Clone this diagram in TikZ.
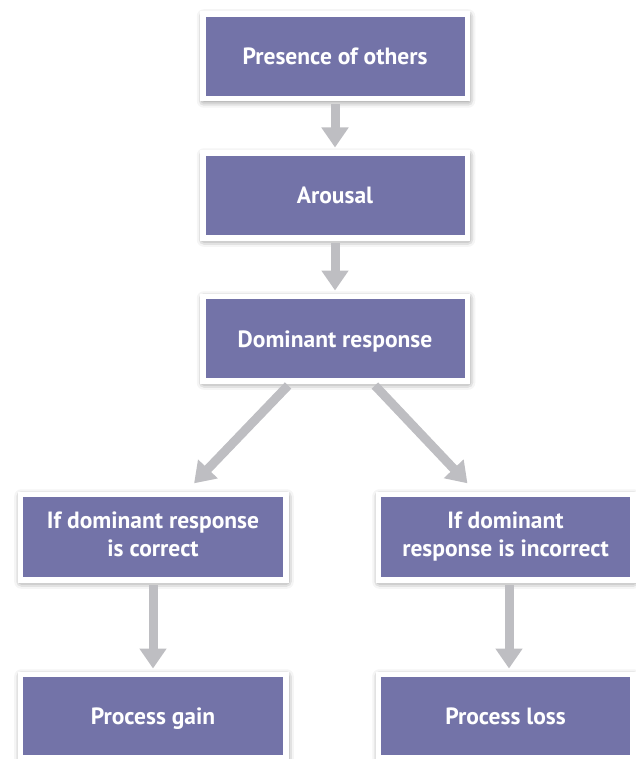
\documentclass[tikz,border=0pt]{standalone}
\usepackage{fontspec}
\setmainfont{PT Sans}
\usetikzlibrary{calc,arrows.meta,shadows.blur}

\definecolor{boxpurple}{RGB}{115,115,168}
\definecolor{arrowgray}{RGB}{190,190,194}

\tikzset{
	stagebox/.style={rectangle, fill=boxpurple, draw=white, line width=5.5pt,
		text=white, font=\fontsize{23.5}{28}\selectfont\bfseries, align=center, inner sep=0pt,
		execute at begin node={\rule[-6pt]{0pt}{29pt}},
		execute at end node={\rule[-6pt]{0pt}{0pt}},
		blur shadow={shadow xshift=1pt, shadow yshift=-2pt, shadow blur radius=7pt, shadow opacity=60}},
	flow/.style={draw=arrowgray, line width=9pt, -{Triangle[width=26pt,length=20pt]},
		shorten >=3pt, shorten <=2.75pt},
}

\begin{document}
\begin{tikzpicture}[x=1pt, y=-1pt]
			%%%%% START %%%%%
			\useasboundingbox (0, 0) rectangle (636, 759);
			
			% the chain in the middle
			\node[stagebox, minimum width=264.5pt, minimum height=84.5pt] (presence) at (335, 56.5) {Presence of others};
			\node[stagebox, minimum width=264.5pt, minimum height=84.5pt] (arousal) at (335, 195.5) {Arousal};
			\node[stagebox, minimum width=264.5pt, minimum height=84.5pt] (dominant) at (335, 338.5) {Dominant response};
			
			% the two cases
			\node[stagebox, minimum width=265.5pt, minimum height=85.5pt] (correct) at (153, 537) {If dominant response\\is correct};
			\node[stagebox, minimum width=254.5pt, minimum height=85.5pt] (incorrect) at (505.5, 537) {If dominant\\response is incorrect};
			
			% the outcomes
			\node[stagebox, minimum width=265.5pt, minimum height=83.5pt] (gain) at (153, 716) {Process gain};
			\node[stagebox, minimum width=254.5pt, minimum height=83.5pt] (loss) at (505.5, 716) {Process loss};
			
			\draw[flow] (presence.south) -- (arousal.north);
			\draw[flow] (arousal.south) -- (dominant.north);
			
			\draw[flow] ($(dominant.south)+(-45, 0)$) -- ($(correct.north)+(39, -6)$);
			\draw[flow] ($(dominant.south)+(38, 0)$) -- ($(incorrect.north)+(-36, -6)$);
			
			\draw[flow] (correct.south) -- (gain.north);
			\draw[flow] ($(incorrect.south)+(3.5, 0)$) -- ($(loss.north)+(3.5, 0)$);
			
			%%%%% END %%%%%
\end{tikzpicture}
\end{document}
